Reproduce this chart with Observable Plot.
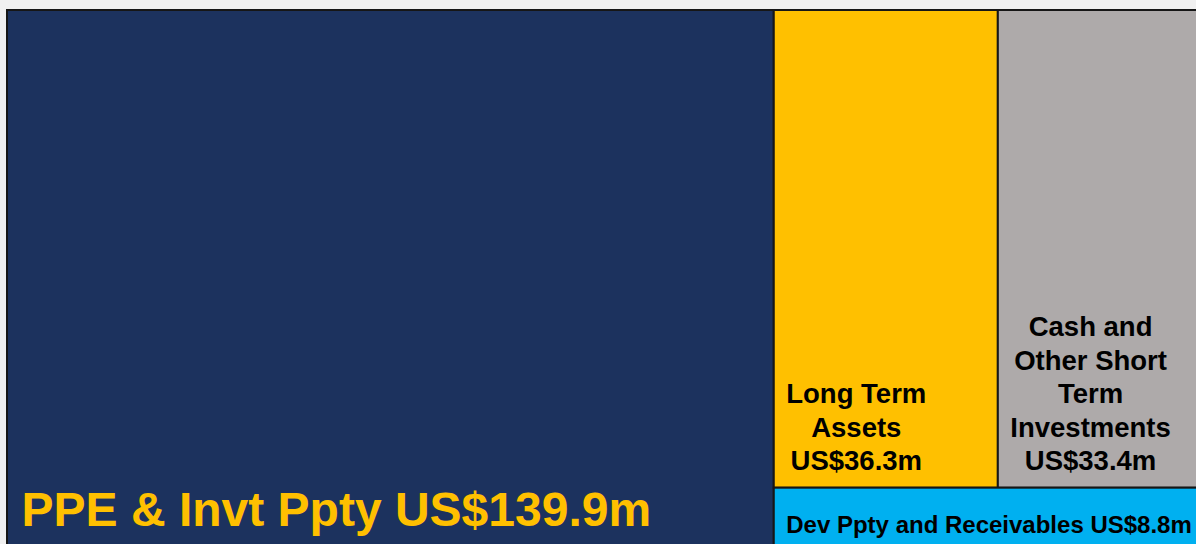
<!DOCTYPE html>
<html>
<head>
<meta charset="utf-8">
<script src="https://cdn.jsdelivr.net/npm/d3@7"></script>
<script src="https://cdn.jsdelivr.net/npm/@observablehq/plot@0.6"></script>
<style>
  html, body { margin: 0; padding: 0; background: #f0f0f0; overflow: hidden; }
  #chart { width: 1196px; height: 544px; overflow: hidden; }
</style>
</head>
<body>
<div id="chart"></div>
<script>
// ---- data ----
const categories = ["PPE & Invt Ppty", "Long Term Assets", "Cash and Other Short Term Investments", "Dev Ppty and Receivables"];
const values = [139.9, 36.3, 33.4, 8.8];
// label text as it is broken into lines in the reference
const labels = [
  "PPE & Invt Ppty US$139.9m",
  "Long Term\nAssets\nUS$36.3m",
  "Cash and\nOther Short\nTerm\nInvestments\nUS$33.4m",
  "Dev Ppty and Receivables US$8.8m"
];

// ---- styles ----
const colors = ["#1c325e", "#ffc000", "#aeaaaa", "#00b0f0"];
const textColors = ["#ffc000", "#000000", "#000000", "#000000"];
const fontSizes = [48, 27.5, 27.5, 24];
const padsX = [14, 12, 12, 12];
const padsY = [12, 12, 12, 10];
const FONT = "'Liberation Sans', Arial, sans-serif";

// ---- hierarchy (slice / dice nesting of the leaves) ----
const leaf = i => ({name: categories[i], value: values[i], label: labels[i], i});
const tree = {children: [leaf(0), {children: [{children: [leaf(1), leaf(2)]}, leaf(3)]}]};
const root = d3.hierarchy(tree).sum(d => d.children ? 0 : d.value);
d3.treemap().tile(d3.treemapSliceDice).size([1, 1]).round(false)(root);
const leaves = root.leaves();

// measure text for block-centred multi-line labels
const ctx = document.createElement("canvas").getContext("2d");
function maxLineWidth(text, size) {
  ctx.font = `bold ${size}px ${FONT}`;
  return d3.max(text.split("\n"), s => ctx.measureText(s).width);
}

const textMarks = leaves.map(d => {
  const i = d.data.i;
  const fs = fontSizes[i];
  const w = maxLineWidth(d.data.label, fs);
  return Plot.text([d], {
    x: n => n.x0,
    y: n => n.y1,
    text: n => n.data.label,
    textAnchor: "middle",
    lineAnchor: "bottom",
    lineHeight: 1.22,
    dx: padsX[i] + w / 2,
    dy: -(padsY[i] + 0.212 * fs),
    fill: textColors[i],
    fontSize: fs,
    fontWeight: "bold",
    fontFamily: FONT
  });
});

const chart = Plot.plot({
  width: 1196,
  height: 544,
  margin: 0,
  style: {background: "#f0f0f0", fontFamily: FONT, overflow: "hidden"},
  x: {domain: [0, 1], range: [7, 1204], axis: null},
  y: {domain: [0, 1], range: [10, 548], axis: null},
  color: {type: "identity"},
  marks: [
    Plot.rect(leaves, {
      x1: d => d.x0, x2: d => d.x1, y1: d => d.y0, y2: d => d.y1,
      fill: d => colors[d.data.i],
      stroke: "#161616",
      strokeWidth: 2
    }),
    ...textMarks
  ]
});
document.getElementById("chart").appendChild(chart);
</script>
</body>
</html>
